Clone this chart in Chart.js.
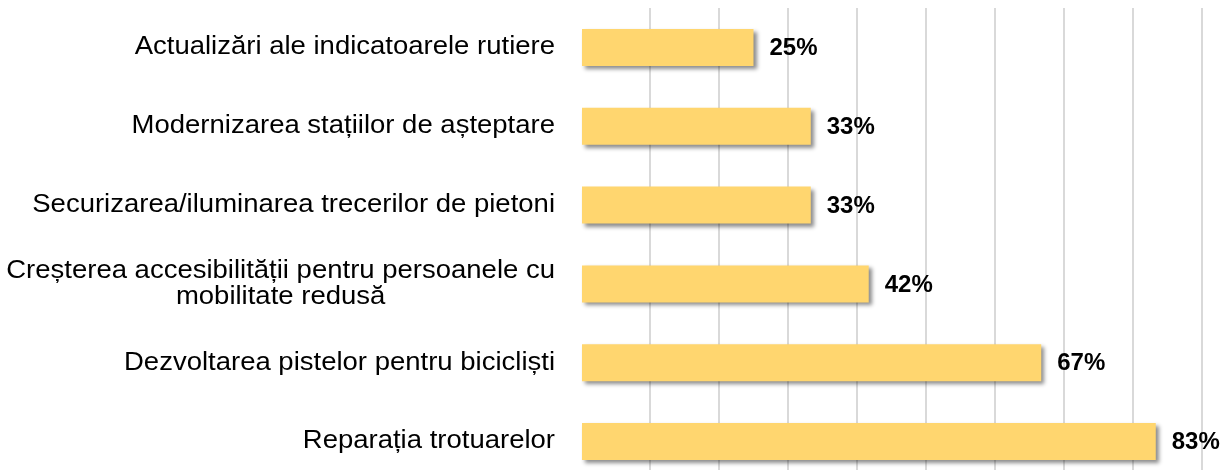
<!DOCTYPE html>
<html>
<head>
<meta charset="utf-8">
<script src="https://cdn.jsdelivr.net/npm/chart.js@4.4.0/dist/chart.umd.min.js"></script>
<style>
  html, body { margin: 0; padding: 0; background: #fff; overflow: hidden; }
  #wrap { position: absolute; left: 0; top: 0; width: 1271px; height: 481px; }
</style>
</head>
<body>
<div id="wrap"><canvas id="chart"></canvas></div>
<script>
// Categories (multi-line labels as arrays)
const categories = [
    'Actualizări ale indicatoarele rutiere',
    'Modernizarea stațiilor de așteptare',
    'Securizarea/iluminarea trecerilor de pietoni',
    ['Creșterea accesibilității pentru persoanele cu', 'mobilitate redusă'],
    'Dezvoltarea pistelor pentru bicicliști',
    'Reparația trotuarelor'
];
// bar lengths (labels are shown rounded)
const values = [25, 33.3, 33.3, 41.7, 66.7, 83.3];
const barColor = '#FFD66F';

// Drop shadow under the bars
const barShadow = {
    id: 'barShadow',
    beforeDatasetsDraw(chart) {
        const ctx = chart.ctx;
        ctx.save();
        ctx.shadowColor = 'rgba(0, 0, 0, 0.45)';
        ctx.shadowBlur = 4;
        ctx.shadowOffsetX = 3;
        ctx.shadowOffsetY = 3;
    },
    afterDatasetsDraw(chart) {
        chart.ctx.restore();
    }
};

// Category labels (right aligned block, lines centered) + value labels
const labelsPlugin = {
    id: 'labelsPlugin',
    afterDraw(chart) {
        const ctx = chart.ctx;
        const yScale = chart.scales.y;
        const meta = chart.getDatasetMeta(0);
        const sx = 1.1;
        const right = 555;

        ctx.save();
        ctx.fillStyle = '#000';
        ctx.textBaseline = 'middle';
        ctx.textAlign = 'center';
        ctx.font = '25px "Liberation Sans", Arial, sans-serif';
        categories.forEach((cat, i) => {
            const lines = Array.isArray(cat) ? cat : [cat];
            const y = yScale.getPixelForValue(i);
            const blockW = Math.max(...lines.map(l => ctx.measureText(l).width)) * sx;
            const cx = right - blockW / 2;
            lines.forEach((line, j) => {
                const ly = y + (j - (lines.length - 1) / 2) * 26;
                ctx.save();
                ctx.scale(sx, 1);
                ctx.fillText(line, cx / sx, ly);
                ctx.restore();
            });
        });

        ctx.textAlign = 'left';
        ctx.font = 'bold 24px "Liberation Sans", Arial, sans-serif';
        meta.data.forEach((bar, i) => {
            ctx.fillText(Math.round(values[i]) + '%', bar.x + 16, bar.y + 1);
        });
        ctx.restore();
    }
};

new Chart(document.getElementById('chart'), {
    type: 'bar',
    data: {
        labels: categories,
        datasets: [{
            data: values,
            backgroundColor: barColor,
            borderWidth: 0,
            categoryPercentage: 1,
            barPercentage: 0.47
        }]
    },
    options: {
        indexAxis: 'y',
        responsive: true,
        maintainAspectRatio: false,
        animation: false,
        layout: { padding: { left: 581, top: 8, right: 0, bottom: 0 } },
        plugins: {
            legend: { display: false },
            tooltip: { enabled: false }
        },
        scales: {
            x: {
                min: 0,
                max: 100,
                ticks: { display: false, stepSize: 10 },
                border: { display: false },
                grid: {
                    drawTicks: false,
                    lineWidth: 2,
                    color: (c) => (c.tick && c.tick.value === 0) ? 'rgba(0,0,0,0)' : '#d9d9d9'
                },
                afterFit: (axis) => { axis.height = 0; }
            },
            y: {
                display: false
            }
        }
    },
    plugins: [barShadow, labelsPlugin]
});
</script>
</body>
</html>
